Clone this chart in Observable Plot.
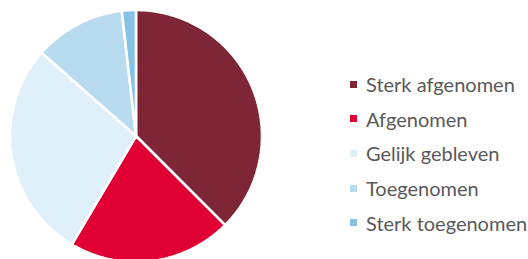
<!DOCTYPE html>
<html>
<head>
<meta charset="utf-8">
<script src="https://cdn.jsdelivr.net/npm/d3@7"></script>
<script src="https://cdn.jsdelivr.net/npm/@observablehq/plot@0.6"></script>
<style>
  html, body { margin: 0; padding: 0; background: #fff; }
  #wrap { position: relative; width: 528px; height: 259px; overflow: hidden; }
  #legend { position: absolute; left: 350px; top: 67px; font-family: Lato, "Open Sans", sans-serif; font-size: 20px; color: #595959; }
  .item { height: 34.6px; display: flex; align-items: center; white-space: nowrap; }
  .sw { width: 7px; height: 7px; margin-right: 9px; flex: none; }
</style>
</head>
<body>
<div id="wrap"><div id="legend"></div></div>
<script>
const categories = ["Sterk afgenomen", "Afgenomen", "Gelijk gebleven", "Toegenomen", "Sterk toegenomen"];
const values = [37.5, 21, 28, 11.7, 1.8];
const colors = ["#7e2536", "#e00034", "#e0f0fb", "#b8dbef", "#85c2e5"];

const arcs = d3.pie().sort(null).value((d, i) => values[i])(categories);
const pts = [];
arcs.forEach((a, i) => {
  const n = Math.max(2, Math.ceil((a.endAngle - a.startAngle) / (Math.PI / 360)));
  for (let k = 0; k <= n; k++) {
    const t = a.startAngle + (a.endAngle - a.startAngle) * k / n;
    pts.push({cat: categories[i], x: Math.sin(t), y: Math.cos(t)});
  }
});

const chart = Plot.plot({
  width: 528,
  height: 259,
  margin: 0,
  x: {domain: [-1, 1], range: [10, 262], axis: null},
  y: {domain: [-1, 1], range: [262, 10], axis: null},
  color: {domain: categories, range: colors},
  marks: [
    Plot.area(pts, {x1: "x", y1: "y", x2: () => 0, y2: () => 0, z: "cat", fill: "cat", stroke: "white", strokeWidth: 2.6, strokeLinejoin: "miter"})
  ]
});
document.getElementById("wrap").prepend(chart);

const legend = document.getElementById("legend");
categories.forEach((c, i) => {
  const row = document.createElement("div");
  row.className = "item";
  const sw = document.createElement("span");
  sw.className = "sw";
  sw.style.background = colors[i];
  const tx = document.createElement("span");
  tx.textContent = c;
  row.append(sw, tx);
  legend.append(row);
});
</script>
</body>
</html>
